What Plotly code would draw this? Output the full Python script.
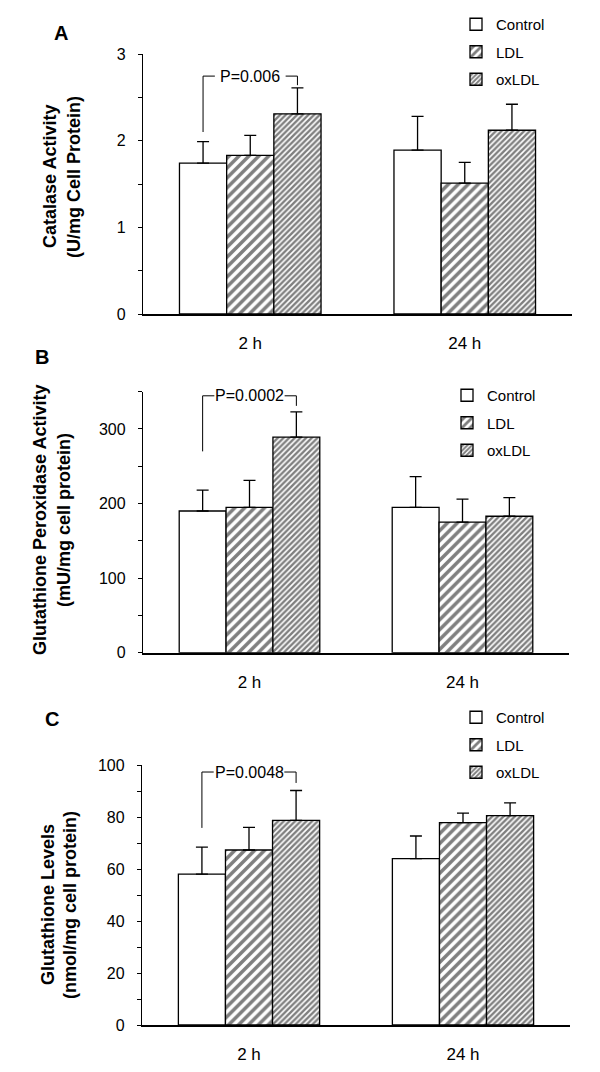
import plotly.graph_objects as go

# ---------------- data ----------------
categories = ["2 h", "24 h"]
series_names = ["Control", "LDL", "oxLDL"]

catalase_control = [1.74, 1.89]
catalase_control_err = [0.25, 0.39]
catalase_ldl = [1.83, 1.51]
catalase_ldl_err = [0.23, 0.24]
catalase_oxldl = [2.31, 2.12]
catalase_oxldl_err = [0.30, 0.30]

gpx_control = [190, 195]
gpx_control_err = [28, 41]
gpx_ldl = [195, 175]
gpx_ldl_err = [36, 31]
gpx_oxldl = [289, 183]
gpx_oxldl_err = [34, 25]

gsh_control = [58, 64]
gsh_control_err = [10.4, 8.7]
gsh_ldl = [67.3, 77.8]
gsh_ldl_err = [8.7, 3.7]
gsh_oxldl = [78.7, 80.5]
gsh_oxldl_err = [11.5, 4.9]

p_labels = ["P=0.006", "P=0.0002", "P=0.0048"]
# bracket levels: [left foot, top, right foot]
bracket_levels = [[2.10, 2.745, 2.64], [270, 344.5, 331], [75.8, 97.3, 93.1]]

panel_letters = ["A", "B", "C"]
y_titles = [
    ["Catalase Activity", "(U/mg Cell Protein)"],
    ["Glutathione Peroxidase Activity", "(mU/mg cell protein)"],
    ["Glutathione Levels", "(nmol/mg cell protein)"],
]
y_ranges = [[0, 3], [0, 350], [0, 100]]
y_dticks = [1, 100, 20]
y_minor = [0.5, 50, 10]

panel_values = [
    [(catalase_control, catalase_control_err), (catalase_ldl, catalase_ldl_err), (catalase_oxldl, catalase_oxldl_err)],
    [(gpx_control, gpx_control_err), (gpx_ldl, gpx_ldl_err), (gpx_oxldl, gpx_oxldl_err)],
    [(gsh_control, gsh_control_err), (gsh_ldl, gsh_ldl_err), (gsh_oxldl, gsh_oxldl_err)],
]

# ---------------- layout geometry (pixels) ----------------
W, H = 600, 1072
FONT = "Liberation Sans, Arial, sans-serif"
x_spans = [(143, 572), (143, 569), (142, 570)]
y_spans = [(314, 54), (652.7, 391.7), (1025, 765)]
letter_pos = [(61, 33), (42, 357), (52, 719)]
title_x = [(50, 74), (40, 64), (48, 70)]
title_yc = [177, 520, 905]
legend_pos = [(456, 8), (447, 379), (456, 701)]
BARGAP = 0.34

patterns = [
    dict(shape="", fgcolor="black", bgcolor="white"),
    dict(shape="/", fgcolor="black", bgcolor="white", size=7, solidity=0.5),
    dict(shape="/", fgcolor="black", bgcolor="white", size=4, solidity=0.6),
]

fig = go.Figure()
layout = dict(
    width=W, height=H,
    margin=dict(l=0, r=0, t=0, b=0, autoexpand=False),
    paper_bgcolor="white", plot_bgcolor="white",
    barmode="group", bargap=BARGAP, bargroupgap=0,
    font=dict(family=FONT, size=15, color="black"),
    showlegend=True,
)
annotations = []
shapes = []

for p in range(3):
    sfx = "" if p == 0 else str(p + 1)
    xa, ya = "x" + sfx, "y" + sfx
    leg = "legend" + sfx
    for s, name in enumerate(series_names):
        vals, errs = panel_values[p][s]
        fig.add_trace(go.Bar(
            x=categories, y=vals, name=name,
            xaxis=xa, yaxis=ya, legend=leg, legendgroup=name + sfx,
            marker=dict(color="white", line=dict(color="black", width=1.3),
                        pattern=patterns[s]),
            error_y=dict(type="data", array=errs, arrayminus=[0] * len(errs),
                         symmetric=False, color="black", thickness=1.3, width=6),
        ))
    x0, x1 = x_spans[p]
    yz, yt = y_spans[p]
    layout["xaxis" + sfx] = dict(
        domain=[x0 / W, x1 / W], anchor=ya, type="category",
        range=[-0.5, len(categories) - 0.5], automargin=False,
        showline=True, linecolor="black", linewidth=1.5,
        ticks="", showgrid=False, zeroline=False,
        tickfont=dict(size=17, family=FONT, color="black"),
        ticklabelstandoff=13,
    )
    layout["yaxis" + sfx] = dict(
        domain=[1 - yz / H, 1 - yt / H], anchor=xa, automargin=False,
        range=y_ranges[p], dtick=y_dticks[p], tick0=0,
        showline=True, linecolor="black", linewidth=1.3,
        ticks="outside", ticklen=4, tickwidth=1.3, tickcolor="black",
        minor=dict(dtick=y_minor[p], ticks="outside", ticklen=4,
                   tickwidth=1.3, tickcolor="black", showgrid=False),
        showgrid=False, zeroline=False,
        tickfont=dict(size=16, family=FONT, color="black"),
        ticklabelstandoff=9,
    )
    lx, ly = legend_pos[p]
    layout[leg] = dict(
        x=lx / W, y=1 - ly / H, xanchor="left", yanchor="top",
        font=dict(size=15, family=FONT, color="black"),
        bgcolor="rgba(0,0,0,0)", tracegroupgap=5,
        itemwidth=30, traceorder="grouped",
    )
    annotations.append(dict(
        text="<b>%s</b>" % panel_letters[p], x=letter_pos[p][0] / W,
        y=1 - letter_pos[p][1] / H, xref="paper", yref="paper",
        showarrow=False, font=dict(size=20, family=FONT, color="black"),
        xanchor="center", yanchor="middle"))
    for li, line in enumerate(y_titles[p]):
        annotations.append(dict(
            text="<b>%s</b>" % line, x=title_x[p][li] / W, y=1 - title_yc[p] / H,
            xref="paper", yref="paper", showarrow=False, textangle=-90,
            font=dict(size=18, family=FONT, color="black"),
            xanchor="center", yanchor="middle"))
    w = (1 - BARGAP) / len(series_names)
    xl, xr = -w, w
    stub = 0.055
    yl, ytop, yr = bracket_levels[p]
    line = dict(color="black", width=1)
    shapes += [
        dict(type="line", xref=xa, yref=ya, x0=xl, x1=xl, y0=yl, y1=ytop, line=line),
        dict(type="line", xref=xa, yref=ya, x0=xl, x1=xl + stub, y0=ytop, y1=ytop, line=line),
        dict(type="line", xref=xa, yref=ya, x0=xr - stub, x1=xr, y0=ytop, y1=ytop, line=line),
        dict(type="line", xref=xa, yref=ya, x0=xr, x1=xr, y0=ytop, y1=yr, line=line),
    ]
    annotations.append(dict(
        text=p_labels[p], x=0, y=ytop, xref=xa, yref=ya, showarrow=False,
        font=dict(size=16, family=FONT, color="black"),
        xanchor="center", yanchor="middle"))

layout["annotations"] = annotations
layout["shapes"] = shapes
fig.update_layout(**layout)
fig.write_html(
    "out.html",
    config={"displayModeBar": False},
    post_script="document.documentElement.style.margin='0';document.body.style.margin='0';document.body.style.padding='0';",
)
